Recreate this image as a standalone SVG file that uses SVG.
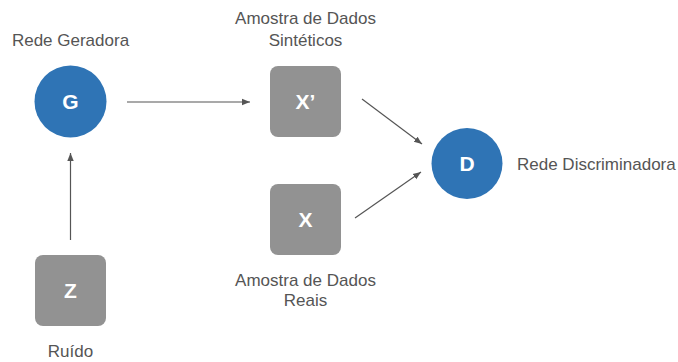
<svg xmlns="http://www.w3.org/2000/svg" width="678" height="362" viewBox="0 0 678 362">
<style>
.lbl{font-family:"Liberation Sans",Arial,sans-serif;font-size:17px;fill:#555;text-anchor:middle}
.nt{font-family:"Liberation Sans",Arial,sans-serif;font-size:21px;font-weight:bold;fill:#fff;text-anchor:middle}
.c{fill:#2F74B5}
.b{fill:#929292}
.e{stroke:#555;stroke-width:1.2;fill:none;marker-end:url(#ah)}
</style>
<defs>
<marker id="ah" viewBox="0 0 10 10" refX="10" refY="5" markerWidth="8" markerHeight="8" markerUnits="userSpaceOnUse" orient="auto">
<path d="M0,1 L10,5 L0,9 z" fill="#555"/>
</marker>
</defs>
<rect width="678" height="362" fill="#fff"/>
<g id="connectors">
<line class="e" x1="127" y1="102" x2="250" y2="102"/>
<line class="e" x1="70.5" y1="240" x2="70.5" y2="153"/>
<line class="e" x1="362" y1="99" x2="422" y2="144"/>
<line class="e" x1="355" y1="218" x2="421" y2="172"/>
</g>
<g id="G">
<circle class="c" cx="70.5" cy="101.5" r="36"/>
<text class="nt" x="70.5" y="109">G</text>
<text class="lbl" x="70.5" y="46">Rede Geradora</text>
</g>
<g id="Xp">
<rect class="b" x="270" y="66" width="71" height="71" rx="8"/>
<text class="nt" x="305.5" y="109">X’</text>
<text class="lbl" x="305.5" y="24">Amostra de Dados</text>
<text class="lbl" x="305.5" y="46">Sintéticos</text>
</g>
<g id="X">
<rect class="b" x="270" y="184" width="71" height="71" rx="8"/>
<text class="nt" x="305.5" y="227">X</text>
<text class="lbl" x="305.5" y="286">Amostra de Dados</text>
<text class="lbl" x="305.5" y="306">Reais</text>
</g>
<g id="Z">
<rect class="b" x="35" y="255" width="71" height="71" rx="8"/>
<text class="nt" x="70.5" y="298">Z</text>
<text class="lbl" x="70.5" y="357">Ruído</text>
</g>
<g id="D">
<circle class="c" cx="467" cy="163.5" r="35.5"/>
<text class="nt" x="467" y="171">D</text>
<text class="lbl" x="517" y="170" style="text-anchor:start">Rede Discriminadora</text>
</g>
</svg>
